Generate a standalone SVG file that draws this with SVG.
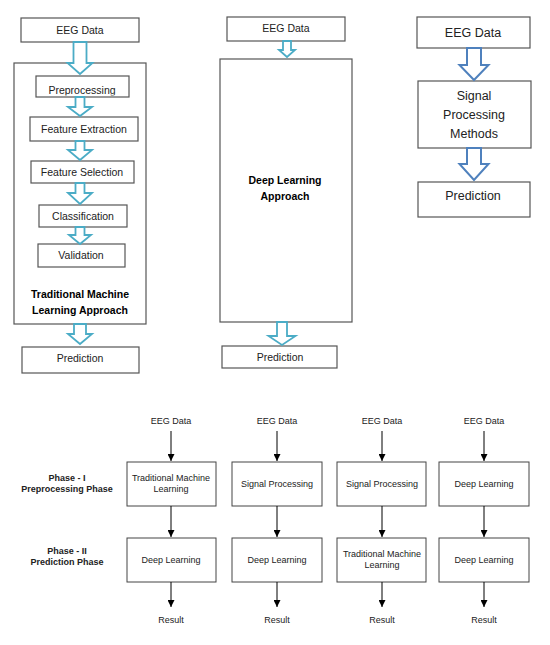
<svg xmlns="http://www.w3.org/2000/svg" width="550" height="645" viewBox="0 0 550 645">
<style>
.box{fill:#fff;stroke:#555;stroke-width:1.2}
.bx2{fill:#fff;stroke:#444;stroke-width:1}
.t{font-family:"Liberation Sans",Arial,sans-serif;font-size:10.5px;fill:#222;text-anchor:middle}
.tb{font-family:"Liberation Sans",Arial,sans-serif;font-size:10.5px;font-weight:bold;fill:#000;text-anchor:middle}
.tr{font-family:"Liberation Sans",Arial,sans-serif;font-size:12.5px;fill:#222;text-anchor:middle}
.s{font-family:"Liberation Sans",Arial,sans-serif;font-size:9px;fill:#222;text-anchor:middle}
.sb{font-family:"Liberation Sans",Arial,sans-serif;font-size:9px;font-weight:bold;fill:#222;text-anchor:middle}
.ha{fill:#fff;stroke:#4bacc6;stroke-width:1.8;stroke-linejoin:miter}
.hb{fill:#fff;stroke:#4f81bd;stroke-width:2;stroke-linejoin:miter}
.ln{stroke:#000;stroke-width:1;fill:none;marker-end:url(#ah)}
</style>
<defs>
<marker id="ah" viewBox="0 0 10 10" refX="10" refY="5" markerWidth="7" markerHeight="7" markerUnits="userSpaceOnUse" orient="auto"><path d="M0,0 L10,5 L0,10 z" fill="#000"/></marker>
<clipPath id="cp"><rect x="36" y="76" width="93" height="19.5"/></clipPath>
</defs>

<!-- Left column: traditional ML -->
<g id="n_eeg1"><rect class="box" x="21" y="18" width="118" height="24"/><text class="t" x="80" y="34">EEG Data</text></g>
<g id="n_tml"><rect class="box" x="14" y="63" width="132" height="261"/><text class="tb" x="80" y="298">Traditional Machine</text><text class="tb" x="80" y="314">Learning Approach</text></g>
<g id="n_pre"><rect class="box" x="36" y="76" width="93" height="21"/><text class="t" x="82" y="93.5" clip-path="url(#cp)">Preprocessing</text></g>
<g id="n_fe"><rect class="box" x="30" y="117" width="108" height="24"/><text class="t" x="84" y="133">Feature Extraction</text></g>
<g id="n_fs"><rect class="box" x="31" y="161" width="103" height="22"/><text class="t" x="82" y="176">Feature Selection</text></g>
<g id="n_cls"><rect class="box" x="39" y="205" width="88" height="22"/><text class="t" x="83" y="220">Classification</text></g>
<g id="n_val"><rect class="box" x="38" y="244" width="87" height="23"/><text class="t" x="81" y="259">Validation</text></g>
<g id="n_pred1"><rect class="box" x="22" y="347" width="117" height="26"/><text class="t" x="80" y="362">Prediction</text></g>

<!-- Middle column: deep learning -->
<g id="n_eeg2"><rect class="box" x="227" y="17" width="118" height="24"/><text class="t" x="286" y="32">EEG Data</text></g>
<g id="n_dl"><rect class="box" x="220" y="59" width="132" height="263"/><text class="tb" x="285" y="184">Deep Learning</text><text class="tb" x="285" y="200">Approach</text></g>
<g id="n_pred2"><rect class="box" x="222" y="346" width="115" height="22"/><text class="t" x="280" y="361">Prediction</text></g>

<!-- Right column: signal processing -->
<g id="n_eeg3"><rect class="box" x="417" y="17" width="113" height="31"/><text class="tr" x="473" y="37">EEG Data</text></g>
<g id="n_spm"><rect class="box" x="418" y="81" width="113" height="67"/><text class="tr" x="474" y="100">Signal</text><text class="tr" x="474" y="119">Processing</text><text class="tr" x="474" y="138">Methods</text></g>
<g id="n_pred3"><rect class="box" x="418" y="182" width="112" height="35"/><text class="tr" x="473" y="200">Prediction</text></g>

<!-- Bottom table -->
<g id="lbl_p1"><text class="sb" x="67" y="481">Phase - I</text><text class="sb" x="67" y="492">Preprocessing Phase</text></g>
<g id="lbl_p2"><text class="sb" x="67" y="554">Phase - II</text><text class="sb" x="67" y="565">Prediction Phase</text></g>

<g id="c1_in"><text class="s" x="171" y="424">EEG Data</text></g>
<g id="c1_a"><rect class="bx2" x="127" y="462" width="89" height="44"/><text class="s" x="171" y="481">Traditional Machine</text><text class="s" x="171" y="492">Learning</text></g>
<g id="c1_b"><rect class="bx2" x="127" y="538" width="89" height="44"/><text class="s" x="171" y="563">Deep Learning</text></g>
<g id="c1_out"><text class="s" x="171" y="623">Result</text></g>

<g id="c2_in"><text class="s" x="277" y="424">EEG Data</text></g>
<g id="c2_a"><rect class="bx2" x="232" y="462" width="90" height="44"/><text class="s" x="277" y="487">Signal Processing</text></g>
<g id="c2_b"><rect class="bx2" x="232" y="538" width="90" height="44"/><text class="s" x="277" y="563">Deep Learning</text></g>
<g id="c2_out"><text class="s" x="277" y="623">Result</text></g>

<g id="c3_in"><text class="s" x="382" y="424">EEG Data</text></g>
<g id="c3_a"><rect class="bx2" x="337" y="462" width="89" height="44"/><text class="s" x="382" y="487">Signal Processing</text></g>
<g id="c3_b"><rect class="bx2" x="337" y="538" width="89" height="44"/><text class="s" x="382" y="557">Traditional Machine</text><text class="s" x="382" y="568">Learning</text></g>
<g id="c3_out"><text class="s" x="382" y="623">Result</text></g>

<g id="c4_in"><text class="s" x="484" y="424">EEG Data</text></g>
<g id="c4_a"><rect class="bx2" x="439" y="462" width="90" height="44"/><text class="s" x="484" y="487">Deep Learning</text></g>
<g id="c4_b"><rect class="bx2" x="439" y="538" width="90" height="44"/><text class="s" x="484" y="563">Deep Learning</text></g>
<g id="c4_out"><text class="s" x="484" y="623">Result</text></g>

<!-- Connectors -->
<g id="connectors">
<path class="ha" d="M73.5,42 H86.5 V63 H92.5 L80,74 L67.5,63 H73.5 Z"/>
<path class="ha" d="M75.5,97 H84.5 V107 H92 L80,116 L68,107 H75.5 Z"/>
<path class="ha" d="M75.5,141 H84.5 V150 H92 L80,160 L68,150 H75.5 Z"/>
<path class="ha" d="M75.5,183 H84.5 V193 H92 L80,204 L68,193 H75.5 Z"/>
<path class="ha" d="M75.5,227 H84.5 V235 H91 L80,244 L69,235 H75.5 Z"/>
<path class="ha" d="M74,324 H86 V334 H92 L80,344 L68,334 H74 Z"/>
<path class="ha" d="M283,41 H291 V50 H295 L287,57 L279,50 H283 Z"/>
<path class="ha" d="M277,322 H287 V336 H295.5 L282,345 L268.5,336 H277 Z"/>
<path class="hb" d="M467,48 H481 V65 H488.5 L474,80 L459.5,65 H467 Z"/>
<path class="hb" d="M467,148 H481 V164 H488.5 L474,180 L459.5,164 H467 Z"/>
<line class="ln" x1="171" y1="431" x2="171" y2="461"/>
<line class="ln" x1="171" y1="506" x2="171" y2="537"/>
<line class="ln" x1="171" y1="582" x2="171" y2="607"/>
<line class="ln" x1="277" y1="431" x2="277" y2="461"/>
<line class="ln" x1="277" y1="506" x2="277" y2="537"/>
<line class="ln" x1="277" y1="582" x2="277" y2="607"/>
<line class="ln" x1="382" y1="431" x2="382" y2="461"/>
<line class="ln" x1="382" y1="506" x2="382" y2="537"/>
<line class="ln" x1="382" y1="582" x2="382" y2="607"/>
<line class="ln" x1="484" y1="431" x2="484" y2="461"/>
<line class="ln" x1="484" y1="506" x2="484" y2="537"/>
<line class="ln" x1="484" y1="582" x2="484" y2="607"/>
</g>
</svg>
